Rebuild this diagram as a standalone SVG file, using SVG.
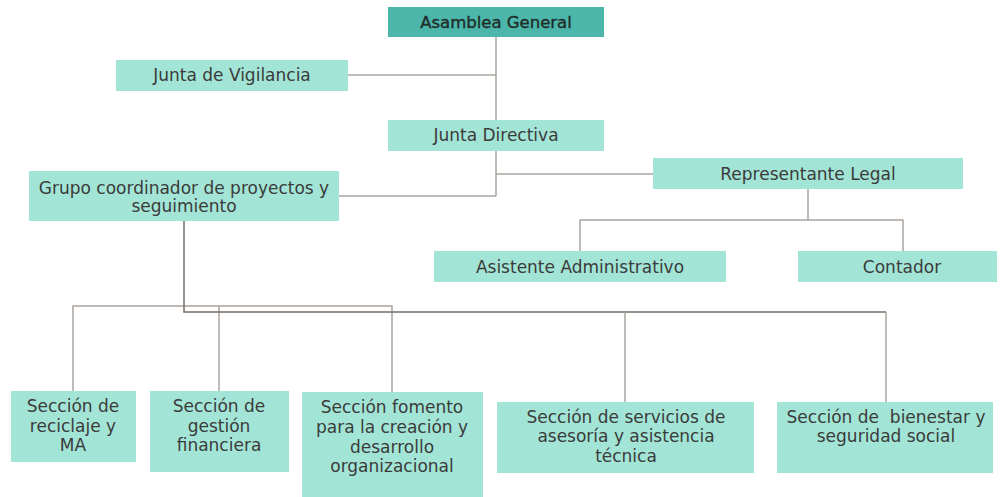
<svg xmlns="http://www.w3.org/2000/svg" width="1000" height="497" viewBox="0 0 1000 497">
<style>
.box{fill:#a2e5d6}
.top{fill:#4db6aa}
.t{font-family:"DejaVu Sans","Liberation Sans",sans-serif;font-size:17px;fill:#3b3b3b;text-anchor:middle}
.tb{font-family:"DejaVu Sans","Liberation Sans",sans-serif;font-size:16.5px;fill:#1f2e2b;stroke:#1f2e2b;stroke-width:0.4;text-anchor:middle}
.c{fill:none;stroke:#aaa49e;stroke-width:1.5}
.cd{fill:none;stroke:#756c66;stroke-width:1.5}
</style>
<rect width="1000" height="497" fill="#ffffff"/>
<g id="connectors">
<path class="c" d="M496 37 V196"/>
<path class="c" d="M348 75 H496"/>
<path class="c" d="M496 174 H653"/>
<path class="c" d="M339 196 H496"/>
<path class="c" d="M808 189 V220"/>
<path class="c" d="M580 251 V220 H903 V251"/>
<path class="c" d="M73 391 V306 H392 V392"/>
<path class="c" d="M219 306 V391"/>
<path class="cd" d="M184 221 V312 H886"/>
<path class="c" d="M625 312 V402"/>
<path class="c" d="M886 312 V402"/>
</g>
<g id="asamblea"><rect class="top" x="388" y="7" width="216" height="30"/><text class="tb" x="496" y="28">Asamblea General</text></g>
<g id="vigilancia"><rect class="box" x="116" y="60" width="232" height="31"/><text class="t" x="232" y="81">Junta de Vigilancia</text></g>
<g id="directiva"><rect class="box" x="388" y="120" width="216" height="31"/><text class="t" x="496" y="141">Junta Directiva</text></g>
<g id="grupo"><rect class="box" x="29" y="171" width="310" height="50"/><text class="t" x="184" y="194">Grupo coordinador de proyectos y</text><text class="t" x="184" y="212">seguimiento</text></g>
<g id="representante"><rect class="box" x="653" y="158" width="310" height="31"/><text class="t" x="808" y="180">Representante Legal</text></g>
<g id="asistente"><rect class="box" x="434" y="251" width="292" height="31"/><text class="t" x="580" y="273">Asistente Administrativo</text></g>
<g id="contador"><rect class="box" x="798" y="251" width="199" height="31"/><text class="t" x="902" y="273">Contador</text></g>
<g id="s1"><rect class="box" x="11" y="391" width="125" height="71"/><text class="t" x="73" y="412">Sección de</text><text class="t" x="73" y="432">reciclaje y</text><text class="t" x="73" y="451">MA</text></g>
<g id="s2"><rect class="box" x="150" y="391" width="139" height="81"/><text class="t" x="219" y="412">Sección de</text><text class="t" x="219" y="432">gestión</text><text class="t" x="219" y="451">financiera</text></g>
<g id="s3"><rect class="box" x="302" y="392" width="181" height="105"/><text class="t" x="392" y="413">Sección fomento</text><text class="t" x="392" y="433">para la creación y</text><text class="t" x="392" y="453">desarrollo</text><text class="t" x="392" y="472">organizacional</text></g>
<g id="s4"><rect class="box" x="497" y="402" width="257" height="71"/><text class="t" x="626" y="423">Sección de servicios de</text><text class="t" x="626" y="442">asesoría y asistencia</text><text class="t" x="626" y="462">técnica</text></g>
<g id="s5"><rect class="box" x="777" y="402" width="216" height="71"/><text class="t" x="886" y="423" xml:space="preserve">Sección de  bienestar y</text><text class="t" x="886" y="442">seguridad social</text></g>
</svg>
